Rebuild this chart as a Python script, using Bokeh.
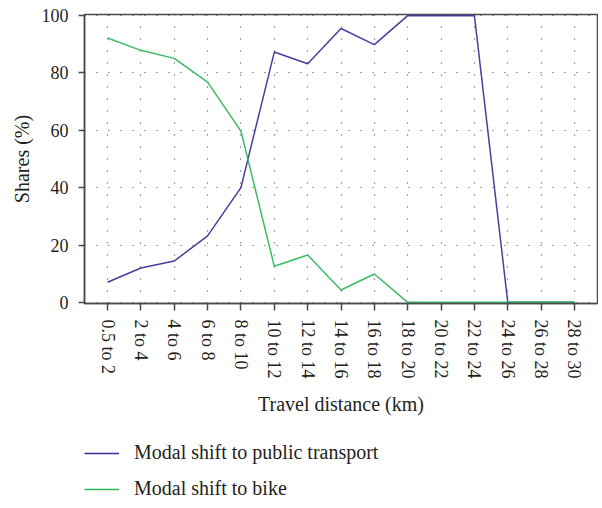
from bokeh.plotting import figure
from bokeh.models import Range1d, Legend, LegendItem, FixedTicker
from bokeh.layouts import column
from bokeh.embed import file_html
from bokeh.resources import INLINE

categories = ["0.5 to 2", "2 to 4", "4 to 6", "6 to 8", "8 to 10", "10 to 12",
              "12 to 14", "14 to 16", "16 to 18", "18 to 20", "20 to 22",
              "22 to 24", "24 to 26", "26 to 28", "28 to 30"]
public_transport = [7.0, 12.0, 14.4, 23.2, 40.0, 87.3, 83.2, 95.5, 89.9,
                    100.0, 100.0, 100.0, 0.0, 0.0, 0.0]
bike = [92.2, 87.9, 85.1, 76.8, 59.7, 12.6, 16.5, 4.3, 9.9,
        0.0, 0.0, 0.0, 0.0, 0.0, 0.0]
series_names = ["Modal shift to public transport", "Modal shift to bike"]
series_colors = ["#3a2e98", "#2ab55a"]
y_ticks = [0, 20, 40, 60, 80, 100]

x_pos = list(range(len(categories)))
series_values = [public_transport, bike]

FONT = "Liberation Serif"
TXT = "#231f20"
AX = "#4a4a4a"

p = figure(width=598, height=430, output_backend="svg", toolbar_location=None,
           x_range=Range1d(-0.69, len(categories) - 1 + 0.69),
           y_range=Range1d(-0.4, 100.4),
           min_border_left=84, min_border_top=14, min_border_right=1,
           min_border_bottom=127)
p.background_fill_color = "white"
p.border_fill_color = "white"
p.outline_line_color = AX
p.outline_line_width = 1.5

for vals, col in zip(series_values, series_colors):
    p.line(x_pos, vals, line_color=col, line_width=1.5, line_alpha=0.92)

# axes
p.xaxis.ticker = FixedTicker(ticks=x_pos)
p.xaxis.major_label_overrides = {i: c for i, c in zip(x_pos, categories)}
p.xaxis.major_label_orientation = "vertical"
p.yaxis.ticker = FixedTicker(ticks=y_ticks)
for ax in (p.xaxis[0], p.yaxis[0]):
    ax.axis_line_color = AX
    ax.axis_line_width = 1.5
    ax.major_tick_line_color = AX
    ax.major_tick_line_width = 1.5
    ax.major_tick_in = 0
    ax.minor_tick_line_color = None
    ax.major_label_text_font = FONT
    ax.major_label_text_font_size = "18px"
    ax.major_label_text_color = TXT
    ax.axis_label_text_font = FONT
    ax.axis_label_text_font_size = "20px"
    ax.axis_label_text_font_style = "normal"
    ax.axis_label_text_color = TXT
p.xaxis.major_tick_out = 7
p.xaxis.major_label_standoff = 9
p.xaxis.axis_label = "Travel distance (km)"
p.xaxis.axis_label_standoff = 11
p.yaxis.major_tick_out = 6
p.yaxis.major_label_standoff = 10
p.yaxis.axis_label = "Shares (%)"
p.yaxis.axis_label_standoff = 6

# grid
p.xgrid.ticker = FixedTicker(ticks=x_pos)
p.ygrid.ticker = FixedTicker(ticks=y_ticks)
for g in (p.xgrid[0], p.ygrid[0]):
    g.grid_line_color = "#444444"
    g.grid_line_dash = "1 11"
    g.grid_line_width = 1.2

# legend panel below the chart (its lines lie outside its visible range)
pl = figure(width=598, height=74, output_backend="svg", toolbar_location=None,
            x_axis_type=None, y_axis_type=None,
            x_range=Range1d(-0.69, len(categories) - 1 + 0.69),
            y_range=Range1d(1000, 1001),
            min_border_left=84, min_border_right=1, min_border_top=0,
            min_border_bottom=0)
pl.outline_line_color = None
pl.background_fill_color = "white"
pl.border_fill_color = "white"
pl.xgrid.visible = False
pl.ygrid.visible = False
items = []
for name, vals, col in zip(series_names, series_values, series_colors):
    r = pl.line(x_pos, vals, line_color=col, line_width=1.5)
    items.append(LegendItem(label=name, renderers=[r]))

legend = Legend(items=items, location=(0, 4), orientation="vertical")
legend.border_line_color = None
legend.background_fill_alpha = 0
legend.label_text_font = FONT
legend.label_text_font_size = "20px"
legend.label_text_color = TXT
legend.glyph_width = 35
legend.glyph_height = 20
legend.label_height = 20
legend.label_standoff = 15
legend.spacing = 13
legend.padding = 0
legend.margin = 0
pl.add_layout(legend, "center")

layout = column(p, pl, spacing=0)
open("out.html", "w").write(file_html(layout, INLINE))
